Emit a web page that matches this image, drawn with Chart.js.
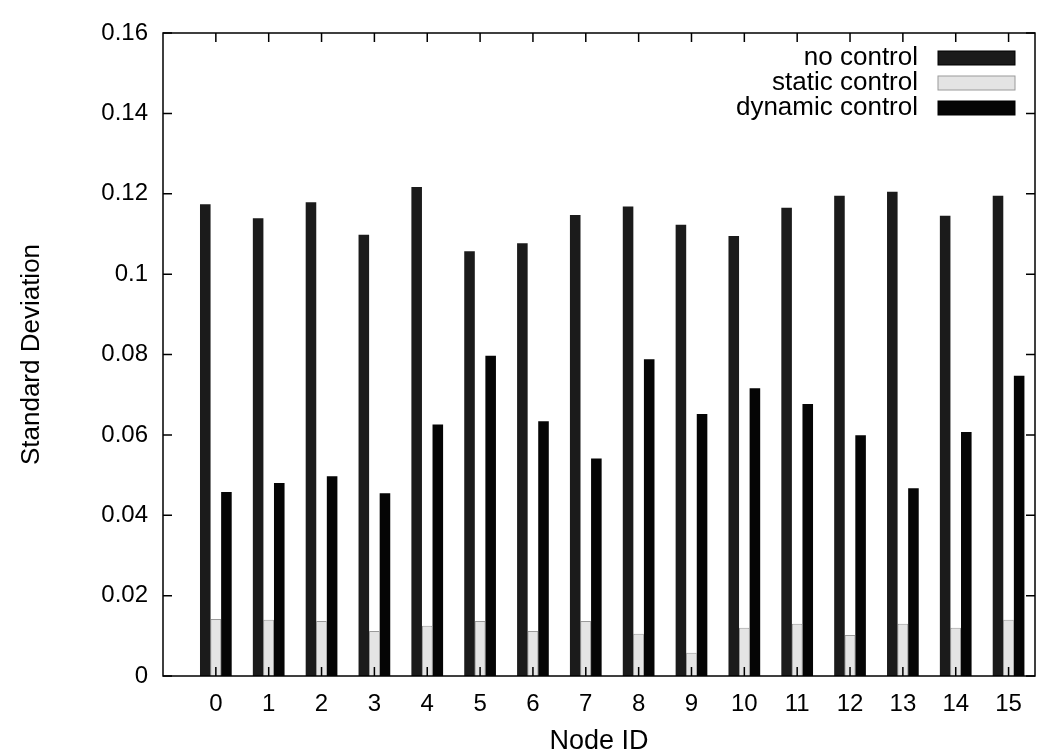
<!DOCTYPE html>
<html>
<head>
<meta charset="utf-8">
<title>Standard Deviation per Node</title>
<script src="https://cdn.jsdelivr.net/npm/chart.js@4/dist/chart.umd.min.js"></script>
<style>
  html, body { margin:0; padding:0; background:#fff; }
  #wrap { width:1059px; height:755px; }
</style>
</head>
<body>
<div id="wrap"><canvas id="chart" width="1059" height="755"></canvas></div>
<script>
// ── Data ──────────────────────────────────────────────────────────────────────
const nodeIds = [0,1,2,3,4,5,6,7,8,9,10,11,12,13,14,15];
const noControl      = [0.1174,0.1139,0.1179,0.1098,0.1217,0.1057,0.1077,0.1147,0.1168,0.1123,0.1095,0.1165,0.1195,0.1205,0.1145,0.1195];
const staticControl  = [0.0142,0.0140,0.0137,0.0112,0.0125,0.0137,0.0112,0.0137,0.0105,0.0058,0.0120,0.0130,0.0102,0.0130,0.0120,0.0140];
const dynamicControl = [0.0458,0.0480,0.0497,0.0455,0.0626,0.0797,0.0634,0.0541,0.0788,0.0652,0.0716,0.0677,0.0599,0.0467,0.0607,0.0747];
const seriesNames = ['no control', 'static control', 'dynamic control'];
const yTicks = [0,0.02,0.04,0.06,0.08,0.1,0.12,0.14,0.16];

const FONT = '"Liberation Sans", Arial, Helvetica, sans-serif';
const pts = vals => nodeIds.map((id,i) => ({x:id, y:vals[i]}));

// ── Frame, inward ticks and legend (gnuplot style) ────────────────────────────
const framePlugin = {
  id: 'frame',
  afterDraw(chart) {
    const {ctx, chartArea:a, scales:{x, y}} = chart;
    ctx.save();
    ctx.strokeStyle = '#000'; ctx.lineWidth = 1.5;
    ctx.strokeRect(a.left, a.top, a.right-a.left, a.bottom-a.top);
    ctx.beginPath();
    yTicks.forEach(v => {
      const py = y.getPixelForValue(v);
      ctx.moveTo(a.left, py);  ctx.lineTo(a.left+9, py);
      ctx.moveTo(a.right, py); ctx.lineTo(a.right-9, py);
    });
    nodeIds.forEach(v => {
      const px = x.getPixelForValue(v);
      ctx.moveTo(px, a.top);    ctx.lineTo(px, a.top+9);
      ctx.moveTo(px, a.bottom); ctx.lineTo(px, a.bottom-9);
    });
    ctx.stroke();

    // legend, text right-aligned with the sample box on its right
    ctx.font = '26px ' + FONT; ctx.textAlign = 'right'; ctx.textBaseline = 'middle';
    chart.data.datasets.forEach((ds, i) => {
      const cy = a.top + 25 + i*25;
      ctx.fillStyle = '#000';
      ctx.fillText(ds.label, a.right-117, cy);
      ctx.fillStyle = ds.backgroundColor;
      ctx.fillRect(a.right-97, cy-7, 77, 14);
      ctx.strokeStyle = ds.borderColor; ctx.lineWidth = 1;
      ctx.strokeRect(a.right-97, cy-7, 77, 14);
    });
    ctx.restore();
  }
};

new Chart(document.getElementById('chart'), {
  type: 'bar',
  data: {
    datasets: [
      {label:seriesNames[0], data:pts(noControl),      backgroundColor:'#1b1b1b', borderColor:'#000', borderWidth:0},
      {label:seriesNames[1], data:pts(staticControl),  backgroundColor:'#e4e4e4', borderColor:'#9a9a9a', borderWidth:1},
      {label:seriesNames[2], data:pts(dynamicControl), backgroundColor:'#050505', borderColor:'#000', borderWidth:0},
    ]
  },
  options: {
    responsive: false, animation: false, devicePixelRatio: 1,
    layout: {padding:{left:0, right:24, top:33, bottom:0}},
    datasets: {bar: {categoryPercentage:0.6, barPercentage:1.0}},
    plugins: {legend:{display:false}, tooltip:{enabled:false}},
    scales: {
      x: {
        type:'linear', min:-1, max:15.5, offset:false,
        grid:{display:false, drawTicks:false}, border:{display:false},
        afterBuildTicks: axis => { axis.ticks = nodeIds.map(v => ({value:v})); },
        afterFit: s => { s.height = 79; },
        ticks:{color:'#000', padding:14, font:{family:FONT, size:24}, callback:v => String(v)},
        title:{display:true, text:'Node ID', color:'#000', font:{family:FONT, size:27, lineHeight:1}, padding:{top:0, bottom:0}},
      },
      y: {
        min:0, max:0.16,
        grid:{display:false, drawTicks:false}, border:{display:false},
        afterBuildTicks: axis => { axis.ticks = yTicks.map(v => ({value:v})); },
        afterFit: s => { s.width = 163; },
        ticks:{color:'#000', padding:15, font:{family:FONT, size:24}, callback:v => String(+v.toFixed(2))},
        title:{display:true, text:'Standard Deviation', color:'#000', font:{family:FONT, size:26, lineHeight:1}, padding:{top:19, bottom:0}},
      }
    }
  },
  plugins: [framePlugin]
});
</script>
</body>
</html>
